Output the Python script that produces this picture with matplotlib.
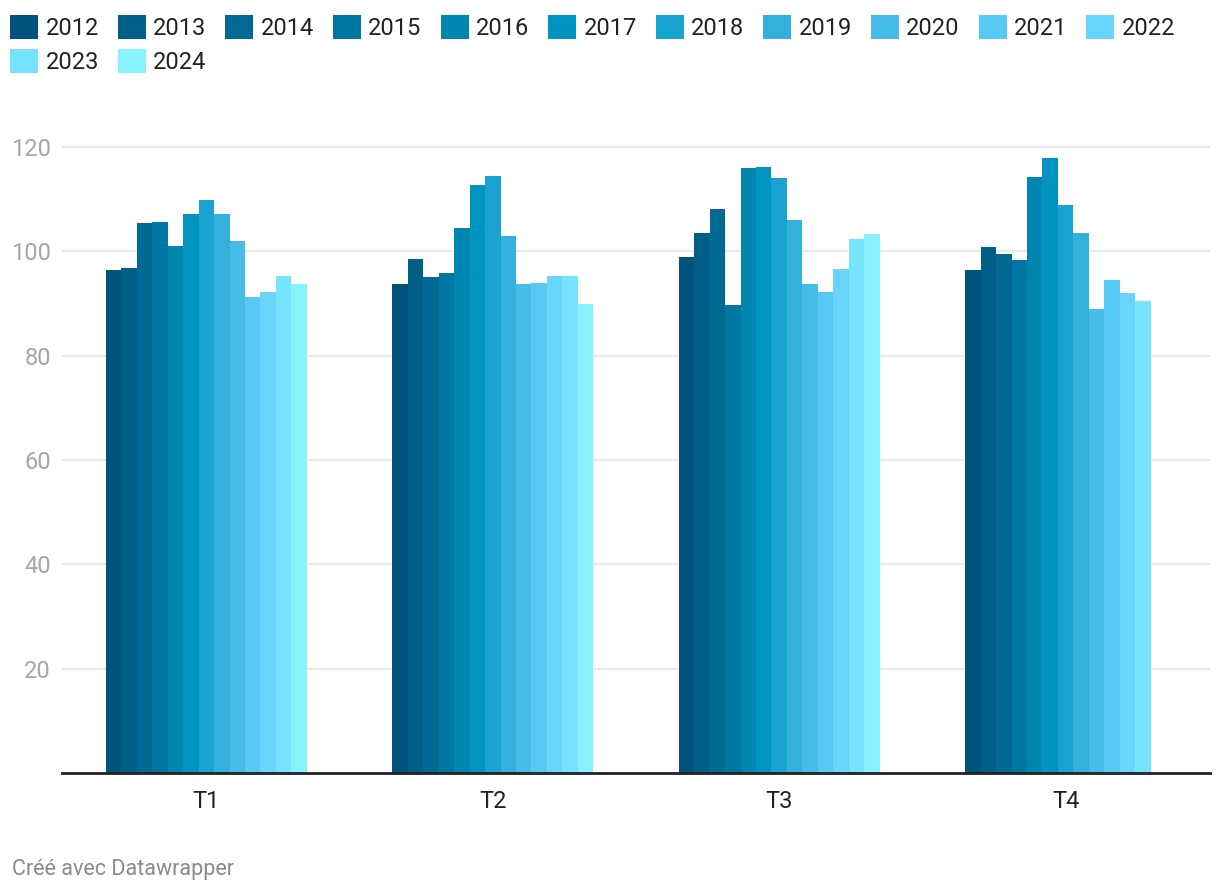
import numpy as np
import matplotlib.pyplot as plt
from matplotlib.patches import Patch

plt.rcParams['font.family'] = ['Roboto', 'DejaVu Sans']

# Quarter index values per year
quarters = ['T1', 'T2', 'T3', 'T4']
years = ['2012', '2013', '2014', '2015', '2016', '2017', '2018',
         '2019', '2020', '2021', '2022', '2023', '2024']

v2012 = [96.4, 93.7, 98.9, 96.4]
v2013 = [96.8, 98.5, 103.5, 100.8]
v2014 = [105.4, 95.1, 108.1, 99.5]
v2015 = [105.6, 95.8, 89.7, 98.3]
v2016 = [101.0, 104.5, 116.0, 114.2]
v2017 = [107.1, 112.7, 116.2, 117.9]
v2018 = [109.8, 114.4, 114.0, 108.9]
v2019 = [107.1, 102.9, 106.0, 103.5]
v2020 = [102.0, 93.7, 93.7, 88.9]
v2021 = [91.2, 93.9, 92.2, 94.5]
v2022 = [92.2, 95.3, 96.6, 92.0]
v2023 = [95.3, 95.3, 102.4, 90.5]
v2024 = [93.7, 89.9, 103.3, np.nan]

series = [v2012, v2013, v2014, v2015, v2016, v2017, v2018,
          v2019, v2020, v2021, v2022, v2023, v2024]

colors = ['#00537a', '#005f87', '#006a94', '#0077a3', '#0086b1', '#0094c1',
          '#19a3d1', '#35b0dc', '#47bce8', '#56c9f5', '#68d5fd', '#76e4ff',
          '#88f3ff']

fig = plt.figure(figsize=(12.2, 8.94), dpi=100)
ax = fig.add_axes([62 / 1220, 1 - 773 / 894, 1148 / 1220, (773 - 121) / 894])

x = np.arange(len(quarters))
n = len(years)
w = 0.054
for i, (vals, c) in enumerate(zip(series, colors)):
    offs = (i - (n - 1) / 2) * w
    ax.bar(x + offs, vals, width=w, color=c, linewidth=0, label=years[i], zorder=3)

ax.set_xlim(-0.504, 3.504)
ax.set_ylim(0, 125)
ax.set_yticks([20, 40, 60, 80, 100, 120])
ax.grid(axis='y', color='#e6e6e6', linewidth=1.3, zorder=0)
ax.set_xticks(x)
ax.set_xticklabels(quarters)
ax.tick_params(axis='x', length=0, pad=12, labelsize=17, labelcolor='#222222')
ax.tick_params(axis='y', length=0, pad=8, labelsize=17, labelcolor='#a6a6a6')
for s in ['top', 'right', 'left']:
    ax.spines[s].set_visible(False)
ax.spines['bottom'].set_color('#222222')
ax.spines['bottom'].set_linewidth(2)
ax.spines['bottom'].set_zorder(4)

# legend fills column by column, so reorder to get row-wise layout
ncol = 11
order = []
for col in range(ncol):
    order.append(col)
    if col + ncol < n:
        order.append(col + ncol)
handles = [Patch(facecolor=colors[i], edgecolor='none') for i in order]
labels = [years[i] for i in order]
fig.legend(handles, labels, loc='upper left', bbox_to_anchor=(10 / 1220, 1 - 15 / 894),
           ncol=ncol, frameon=False, fontsize=17, handlelength=1.19,
           handleheight=1.19, handletextpad=0.31, columnspacing=0.80,
           borderaxespad=0, labelspacing=0.38, borderpad=0,
           labelcolor='#222222')

fig.text(12 / 1220, 1 - 870 / 894, 'Créé avec Datawrapper', fontsize=15.5,
         color='#8a8a8a', va='center', ha='left')

fig.savefig('out.png', dpi=100)
